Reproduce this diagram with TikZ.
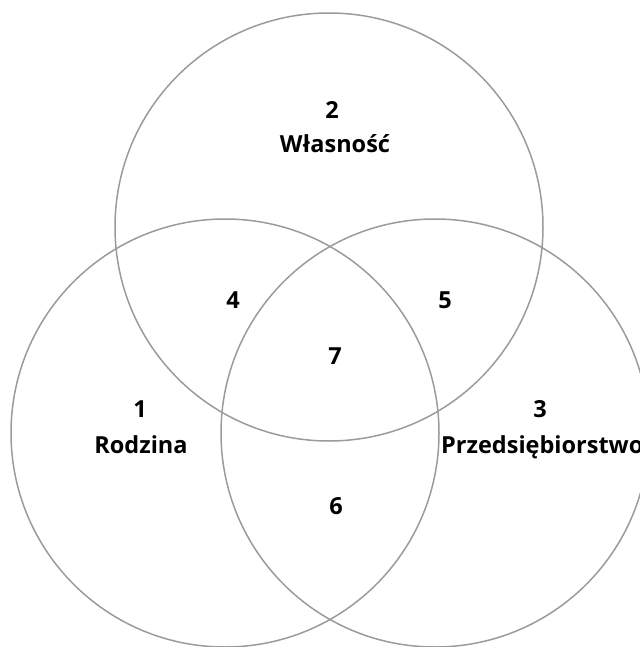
\documentclass[tikz,border=0pt]{standalone}
\usepackage{fontspec}
\setmainfont{Open Sans}
\definecolor{ringgray}{RGB}{155,155,155}

\begin{document}
\begin{tikzpicture}[x=1pt, y=-1pt,
                    every node/.style={font=\bfseries\fontsize{23.5}{28}\selectfont, inner sep=0pt, anchor=base},
                    ring/.style={draw=ringgray, line width=1.5pt}]

    \useasboundingbox (0,0) rectangle (639,647);

    % Three sets
    \coordinate (W) at (329,227); % Wlasnosc
    \coordinate (R) at (225,433); % Rodzina
    \coordinate (P) at (435,433); % Przedsiebiorstwo
    \draw[ring] (W) circle[radius=214pt];
    \draw[ring] (R) circle[radius=214pt];
    \draw[ring] (P) circle[radius=214pt];

    % Labels of the sets
    \node (n1) at (140,417) {1};
    \node (rodzina) at (141,453) {Rodzina};
    \node (n2) at (332,119) {2};
    \node (wlasnosc) at (335,153) {Własność};
    \node (n3) at (540,417) {3};
    \node[anchor=base west] (firma) at (441,453) {Przedsiębiorstwo};

    % Overlaps
    \node (n4) at (233,308) {4}; % Rodzina + Wlasnosc
    \node (n5) at (445,308) {5}; % Wlasnosc + Przedsiebiorstwo
    \node (n6) at (336,514) {6}; % Rodzina + Przedsiebiorstwo
    \node (n7) at (335,364) {7}; % all three
\end{tikzpicture}
\end{document}
